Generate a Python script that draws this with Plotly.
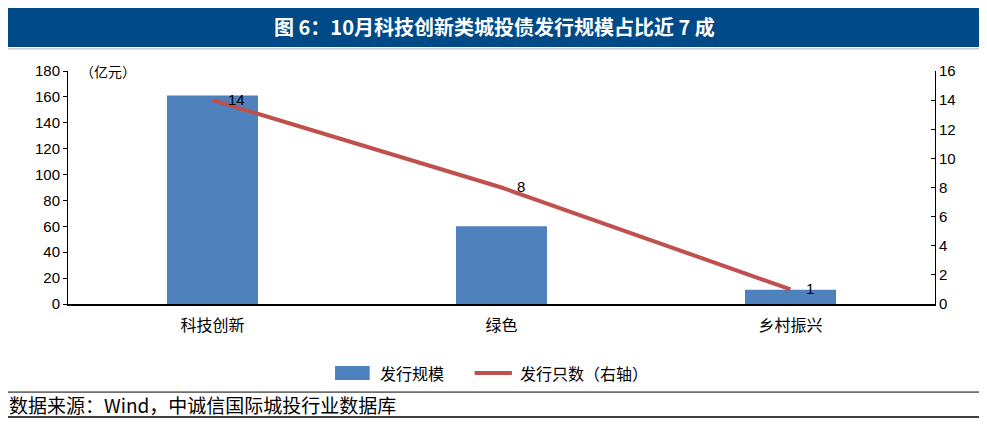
import plotly.graph_objects as go

# 数据
categories = ["科技创新", "绿色", "乡村振兴"]
scale_values = [161, 60, 11]    # 发行规模（亿元）
count_values = [14, 8, 1]       # 发行只数（右轴）
left_ticks = list(range(0, 181, 20))
right_ticks = list(range(0, 17, 2))

num_font = "Liberation Sans Narrow, Liberation Sans, Arial"
cjk_font = "Noto Sans CJK SC"
bar_color = "#4F81BD"
line_color = "#C0504D"

fig = go.Figure()

fig.add_trace(go.Bar(
    x=categories, y=scale_values, name="发行规模",
    marker=dict(color=bar_color, line=dict(width=0)),
    width=0.315, showlegend=False,
))

fig.add_trace(go.Scatter(
    x=categories, y=count_values, name="发行只数（右轴）", yaxis="y2",
    mode="lines", line=dict(color=line_color, width=4), showlegend=False,
))

# 数据标签
labels = [dict(text=str(v), x=c, y=v, xref="x", yref="y2",
               xanchor="left", yanchor="middle", xshift=13, yshift=1,
               showarrow=False,
               font=dict(family=num_font, size=15, color="black"))
          for c, v in zip(categories, count_values)]

fig.update_layout(
    width=987, height=424,
    margin=dict(l=60, r=60, t=63, b=128),
    paper_bgcolor="white", plot_bgcolor="white",
    bargap=0.685,
    xaxis=dict(
        showline=True, linecolor="black", linewidth=1.5,
        ticks="", ticklabelstandoff=6,
        tickfont=dict(family=cjk_font, size=16, color="black"),
        showgrid=False,
    ),
    yaxis=dict(
        range=[0, 180], tickvals=left_ticks,
        showline=True, linecolor="black", linewidth=1,
        ticks="outside", ticklen=4, tickcolor="black",
        tickfont=dict(family=num_font, size=15, color="black"),
        showgrid=False, zeroline=False,
    ),
    yaxis2=dict(
        range=[0, 16], tickvals=right_ticks, overlaying="y", side="right",
        showline=True, linecolor="black", linewidth=1,
        ticks="inside", ticklen=4, tickcolor="black",
        tickfont=dict(family=num_font, size=15, color="black"),
        showgrid=False, zeroline=False,
    ),
    shapes=[
        # 标题栏
        dict(type="rect", xref="paper", yref="paper",
             x0=-0.0692, x1=1.058, y0=1.103, y1=1.283,
             fillcolor="#004A87", line=dict(width=0), layer="below"),
        dict(type="line", xref="paper", yref="paper",
             x0=-0.0692, x1=1.058, y0=1.095, y1=1.095,
             line=dict(color="#B0B0B0", width=1)),
        # 图例
        dict(type="rect", xref="paper", yref="paper",
             x0=0.308, x1=0.348, y0=-0.326, y1=-0.266,
             fillcolor=bar_color, line=dict(width=0)),
        dict(type="line", xref="paper", yref="paper",
             x0=0.469, x1=0.512, y0=-0.296, y1=-0.296,
             line=dict(color=line_color, width=4)),
        # 来源线
        dict(type="line", xref="paper", yref="paper",
             x0=-0.0692, x1=1.058, y0=-0.378, y1=-0.378,
             line=dict(color="black", width=1)),
        dict(type="line", xref="paper", yref="paper",
             x0=-0.0692, x1=1.058, y0=-0.485, y1=-0.485,
             line=dict(color="black", width=1.5)),
    ],
    annotations=labels + [
        dict(text="<b>图 6：10月科技创新类城投债发行规模占比近 7 成</b>",
             xref="paper", yref="paper", x=0.4925, y=1.193,
             xanchor="center", yanchor="middle", showarrow=False,
             font=dict(family=cjk_font, size=20, color="white")),
        dict(text="（亿元）", xref="paper", yref="paper", x=0.0115, y=1.0,
             xanchor="left", yanchor="middle", showarrow=False,
             font=dict(family=cjk_font, size=14, color="black")),
        dict(text="发行规模", xref="paper", yref="paper", x=0.3576, y=-0.296,
             xanchor="left", yanchor="middle", showarrow=False,
             font=dict(family=cjk_font, size=16, color="black")),
        dict(text="发行只数（右轴）", xref="paper", yref="paper", x=0.519, y=-0.296,
             xanchor="left", yanchor="middle", showarrow=False,
             font=dict(family=cjk_font, size=16, color="black")),
        dict(text="数据来源：Wind，中诚信国际城投行业数据库",
             xref="paper", yref="paper", x=-0.0703, y=-0.433,
             xanchor="left", yanchor="middle", showarrow=False,
             font=dict(family=cjk_font, size=19, color="black")),
    ],
)

fig.write_html("out.html")
